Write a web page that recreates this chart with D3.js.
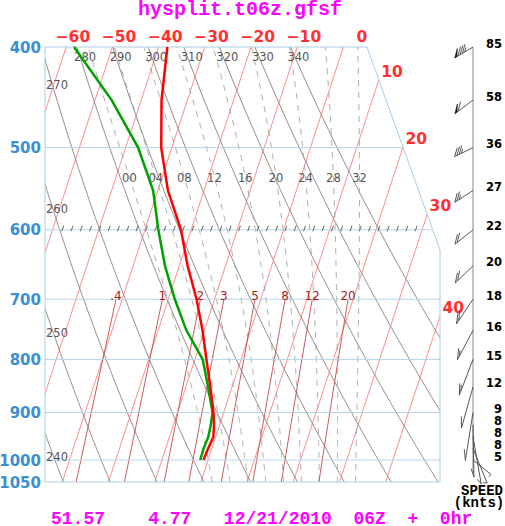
<!DOCTYPE html>
<html><head><meta charset="utf-8">
<script src="https://cdn.jsdelivr.net/npm/d3@7"></script>
<style>body{margin:0;background:#fff}svg{display:block}</style>
</head><body><svg id="c" width="505" height="526"></svg>
<script>
// ---------------- data ----------------
const pressureLevels=[400,450,500,550,600,650,700,750,800,850,900,925,950,975,1000];
const temperature=[-38.1,-35.6,-32.3,-27.8,-22.2,-18.2,-13.9,-10.4,-7.5,-4.7,-2.2,-1.2,-0.5,-0.8,-1.0];
const dewpoint=[-58.3,-46.4,-37.3,-31.0,-27.1,-23.1,-18.6,-13.9,-8.3,-5.2,-2.4,-1.9,-1.6,-1.8,-1.7];
const windSpeed=[85,58,36,27,22,20,18,16,15,12,9,8,8,8,5];
const windDir=[258,255,260,257,254,251,242,236,227,218,204,177,154,131,106];
const gridPressures=[500,600,700,800,900,1000];
const pressureLabels=[400,500,600,700,800,900,1000,1050];
const isotherms=[-60,-50,-40,-30,-20,-10,0,10,20,30,40];
const topIsothermLabels=[-60,-50,-40,-30,-20,-10,0];
const sideIsothermLabels=[10,20,30,40];
const dryAdiabats=[240,250,260,270,280,290,300,310,320,330,340];
const dryTopLabels=[280,290,300,310,320,330,340];
const dryLeftLabels=[270,260,250,240];
const moistAdiabats=[0,4,8,12,16,20,24,28,32];
const mixingRatios=[0.4,1,2,3,5,8,12,20];
const mixingLabels=[".4","1","2","3","5","8","12","20"];
const title="hysplit.t06z.gfsf";
const footer="51.57    4.77   12/21/2010  06Z  +  0hr";
const markerPressure=600;

// ---------------- scales ----------------
const svg=d3.select("#c");
const pTop=400,pBot=1050;
const y=d3.scaleLog().domain([pTop,pBot]).range([47,482]);
const xT=d3.scaleLinear().domain([-60,40]).range([66.2,528.2]);
const skew=0.3276;
const X=(T,p)=>xT(T)-skew*(y(p)-y(pTop));
const left=45, rightTop=367, rightMax=440, cornerY=250;
const rightX=yy=>yy<cornerY? rightTop+(rightMax-rightTop)*(yy-y(pTop))/(cornerY-y(pTop)) : rightMax;

const defs=svg.append("defs");
defs.append("clipPath").attr("id","plot").append("polygon")
  .attr("points",[[left,y(pTop)],[rightTop,y(pTop)],[rightMax,cornerY],[rightMax,y(pBot)],[left,y(pBot)]].map(d=>d.join(",")).join(" "));

const g=svg.append("g").attr("clip-path","url(#plot)");
const line=d3.line();

// isotherms
g.selectAll(".iso").data(isotherms).join("line")
  .attr("x1",t=>X(t,pTop)).attr("y1",y(pTop)).attr("x2",t=>X(t,pBot)).attr("y2",y(pBot))
  .attr("stroke","#ff7f7f").attr("stroke-width",0.9);

// dry adiabats
const pRange=d3.range(pTop,pBot+0.1,5);
g.selectAll(".dry").data(dryAdiabats).join("path")
  .attr("d",th=>line(pRange.map(p=>[X(th*Math.pow(p/1000,0.2857)-273.15,p),y(p)])))
  .attr("fill","none").attr("stroke","#8a7f7f").attr("stroke-width",0.9);

// moist adiabats
function es(T){return 6.112*Math.exp(17.67*T/(T+243.5));}
function lapse(p,Tk){const e=es(Tk-273.15),rs=0.622*e/(p-e),Rd=287.04,cp=1005.7,Lv=2.501e6;
  return (Rd*Tk+Lv*rs)/(p*(cp+Lv*Lv*rs*0.622/(Rd*Tk*Tk)));}
function moist(tw){
  const up=[],down=[];let T=tw+273.15,p=1000;up.push([p,T]);
  while(p>pTop){const dp=-2,k1=lapse(p,T),k2=lapse(p+dp/2,T+k1*dp/2);T+=k2*dp;p+=dp;up.push([p,T]);}
  T=tw+273.15;p=1000;
  while(p<pBot){const dp=2,k1=lapse(p,T),k2=lapse(p+dp/2,T+k1*dp/2);T+=k2*dp;p+=dp;down.push([p,T]);}
  return down.reverse().concat(up);
}
const moistData=moistAdiabats.map(tw=>({tw,pts:moist(tw)}));
g.selectAll(".moist").data(moistData).join("path")
  .attr("d",d=>line(d.pts.map(([p,T])=>[X(T-273.15,p),y(p)])))
  .attr("fill","none").attr("stroke","#a0a0a0").attr("stroke-width",0.9).attr("stroke-dasharray","6,6");

// mixing ratio lines
const tdFromW=(w,p)=>{const e=w*p/(622+w),l=Math.log(e/6.112);return 243.5*l/(17.67-l);};
const pMix=d3.range(700,pBot+0.1,10);
g.selectAll(".mix").data(mixingRatios).join("path")
  .attr("d",w=>line(pMix.map(p=>[X(tdFromW(w,p),p),y(p)])))
  .attr("fill","none").attr("stroke","#c04848").attr("stroke-width",0.9);

// pressure grid
svg.selectAll(".pg").data(gridPressures).join("line")
  .attr("x1",left).attr("x2",p=>rightX(y(p))).attr("y1",p=>y(p)).attr("y2",p=>y(p))
  .attr("stroke","#b4d6ea").attr("stroke-width",1);
svg.append("polyline")
  .attr("points",[[rightMax,y(pBot)],[left,y(pBot)],[left,y(pTop)],[rightTop,y(pTop)],[rightMax,cornerY],[rightMax,y(pBot)]].map(d=>d.join(",")).join(" "))
  .attr("fill","none").attr("stroke","#a8d0e8").attr("stroke-width",1);

// marker ticks at 600 hPa
const tickXs=d3.range(61.7,416,9.3);
svg.selectAll(".tk").data(tickXs).join("line")
  .attr("x1",d=>d).attr("y1",y(markerPressure)+1.5).attr("x2",d=>d+2).attr("y2",y(markerPressure)-4)
  .attr("stroke","#555").attr("stroke-width",0.9);

// labels for lines
const lab=svg.append("g").attr("font-family","DejaVu Sans, sans-serif");
lab.selectAll(".dtl").data(dryTopLabels).join("text")
  .attr("x",th=>X(th*Math.pow(pTop/1000,0.2857)-273.15,pTop)-3).attr("y",61)
  .attr("font-size",11.5).attr("fill","#555").text(d=>d);
lab.selectAll(".dll").data(dryLeftLabels).join("text")
  .attr("x",46).attr("y",(d,i)=>89+124*i).attr("font-size",11.5).attr("fill","#555").text(d=>d);
const pMoistLab=y.invert(178);
lab.selectAll(".ml").data(moistData).join("text")
  .attr("x",d=>{const pt=d.pts.reduce((a,b)=>Math.abs(b[0]-pMoistLab)<Math.abs(a[0]-pMoistLab)?b:a);return X(pt[1]-273.15,pt[0]);})
  .attr("y",182).attr("text-anchor","middle").attr("font-size",11.5).attr("fill","#555")
  .text(d=>String(d.tw).padStart(2,"0"));
lab.selectAll(".mxl").data(mixingRatios).join("text")
  .attr("x",w=>X(tdFromW(w,700),700)).attr("y",y(700)+1).attr("text-anchor","middle")
  .attr("font-size",12).attr("fill","#a82020").text((w,i)=>mixingLabels[i]);

// sounding
svg.append("path").attr("d",line(pressureLevels.map((p,i)=>[X(dewpoint[i],p),y(p)])))
  .attr("fill","none").attr("stroke","#00a000").attr("stroke-width",2.5);
svg.append("path").attr("d",line(pressureLevels.map((p,i)=>[X(temperature[i],p),y(p)])))
  .attr("fill","none").attr("stroke","#ff0000").attr("stroke-width",2.5);

// pressure labels
svg.selectAll(".pl").data(pressureLabels).join("text")
  .attr("x",41).attr("y",p=>y(p)+5.5).attr("text-anchor","end")
  .attr("font-family","DejaVu Sans, sans-serif").attr("font-weight","bold").attr("font-size",15)
  .attr("fill","#3a8fd0").text(d=>d);

// isotherm labels
const tFmt=t=>t<0?"\u2212"+Math.abs(t):String(t);
svg.selectAll(".itl").data(topIsothermLabels).join("text")
  .attr("x",t=>X(t,pTop)+24).attr("y",42).attr("text-anchor","end")
  .attr("font-family","DejaVu Sans, sans-serif").attr("font-weight","bold").attr("font-size",15.5)
  .attr("fill","#ff3030").text(tFmt);
function crossY(t){let lo=y(pTop),hi=y(pBot);for(let k=0;k<50;k++){const m=(lo+hi)/2;const p=y.invert(m);if(X(t,p)>rightX(m))lo=m;else hi=m;}return (lo+hi)/2;}
svg.selectAll(".isl").data(sideIsothermLabels).join("text")
  .attr("x",t=>{const cy=crossY(t);return rightX(cy)+24;}).attr("y",t=>crossY(t)-3).attr("text-anchor","end")
  .attr("font-family","DejaVu Sans, sans-serif").attr("font-weight","bold").attr("font-size",15.5)
  .attr("fill","#ff3030").text(tFmt);

// wind barbs
const staffX=473, L=18.7, ky=2.8, rot=140, fl=4.2, gap=2.3;
svg.append("line").attr("x1",staffX).attr("x2",staffX).attr("y1",y(pTop)).attr("y2",473)
  .attr("stroke","#888").attr("stroke-width",1);
const bg=svg.append("g");
pressureLevels.forEach((p,i)=>{
  const x0=staffX,y0=y(p),b=windDir[i]*Math.PI/180,fb=(windDir[i]+rot)*Math.PI/180;
  const S=(a,f)=>[x0+Math.sin(b)*a+Math.sin(fb)*f, y0-(Math.cos(b)*a+Math.cos(fb)*f)*ky];
  bg.append("line").attr("x1",x0).attr("y1",y0).attr("x2",S(L,0)[0]).attr("y2",S(L,0)[1])
    .attr("stroke","#444").attr("stroke-width",0.9);
  let s=Math.round(windSpeed[i]/5)*5,pos=L;
  while(s>=50){bg.append("polygon").attr("points",[S(pos,0),S(pos-2.2,0),S(pos,fl)].map(d=>d.join(",")).join(" ")).attr("fill","#111").attr("stroke","#111").attr("stroke-width",0.6);pos-=gap+1;s-=50;}
  while(s>=10){bg.append("line").attr("x1",S(pos,0)[0]).attr("y1",S(pos,0)[1]).attr("x2",S(pos,fl)[0]).attr("y2",S(pos,fl)[1]).attr("stroke","#444").attr("stroke-width",0.9);pos-=gap;s-=10;}
  if(s>=5){bg.append("line").attr("x1",S(pos,0)[0]).attr("y1",S(pos,0)[1]).attr("x2",S(pos,fl/2)[0]).attr("y2",S(pos,fl/2)[1]).attr("stroke","#444").attr("stroke-width",0.9);}
});
svg.selectAll(".ws").data(windSpeed).join("text")
  .attr("x",502).attr("y",(d,i)=>y(pressureLevels[i])+0.5).attr("text-anchor","end")
  .attr("font-family","DejaVu Sans, sans-serif").attr("font-weight","bold").attr("font-size",11.5)
  .attr("fill","#000").text(d=>d);
svg.append("text").attr("x",482).attr("y",494.5).attr("text-anchor","middle")
  .attr("font-family","Liberation Mono, monospace").attr("font-weight","bold").attr("font-size",14).text("SPEED");
svg.append("text").attr("x",479).attr("y",507).attr("text-anchor","middle")
  .attr("font-family","Liberation Mono, monospace").attr("font-weight","bold").attr("font-size",14).text("(knts)");

// title & footer
svg.append("text").attr("x",138).attr("y",14.5).attr("font-family","Liberation Mono, monospace")
  .attr("font-weight","bold").attr("font-size",20).attr("fill","#ff00ff").text(title);
svg.append("text").attr("x",51).attr("y",523.5).attr("font-family","Liberation Mono, monospace")
  .attr("font-weight","bold").attr("font-size",18).attr("fill","#ff00ff")
  .style("white-space","pre").text(footer);
</script></body></html>
